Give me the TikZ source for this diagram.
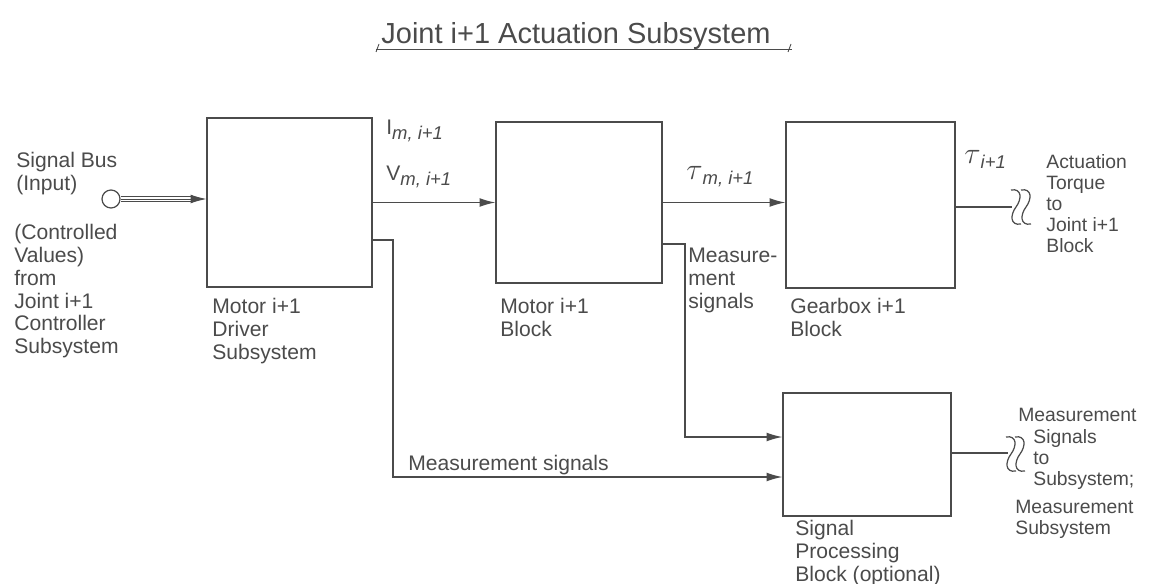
\documentclass[tikz,border=0pt]{standalone}
\usepackage{fontspec}
\setmainfont{Liberation Sans}
\usetikzlibrary{arrows.meta}
\definecolor{pencil}{RGB}{75,75,75}
% subscript set in text size, slightly lowered
\newcommand{\lowsub}[1]{\raisebox{-0.45ex}{\fontsize{10.5}{12}\selectfont\itshape #1}}
\newcommand{\bigtau}{{\fontsize{17}{17}\selectfont$\tau$}}
\begin{document}
\begin{tikzpicture}[x=0.02cm,y=-0.02cm,
  pen/.style={draw=pencil, line width=0.7pt},
  blockbox/.style={pen, rectangle, inner sep=0pt},
  lbl/.style={text=pencil, font=\fontsize{12}{13}\selectfont, align=left, anchor=north west, inner sep=0pt},
  small/.style={lbl, font=\fontsize{11}{12}\selectfont},
  arr/.style={pen, -{Latex[length=9pt,width=5pt]}},
  brk/.pic={\draw[pen] (-5,-17) .. controls (6,-19) and (6,-8) .. (0,0) .. controls (-6,8) and (-6,19) .. (5,17);}
]
\useasboundingbox (0,0) rectangle (1150,584);

% title
\node[text=pencil, font=\fontsize{16.5}{18}\selectfont] (title) at (576,36) {Joint i+1 Actuation Subsystem};
\draw[pen, line width=0.5pt] (376,49) -- (792,49);
\draw[pen, line width=0.5pt] (379,44) -- (376,52);
\draw[pen, line width=0.5pt] (791,44) -- (788,52);

% blocks
\node[blockbox, minimum width=3.3cm,  minimum height=3.38cm] (drv) at (289.5,202.5) {};
\node[blockbox, minimum width=3.32cm, minimum height=3.22cm] (mot) at (579,202.5) {};
\node[blockbox, minimum width=3.38cm, minimum height=3.32cm] (gb)  at (870.5,205) {};
\node[blockbox, minimum width=3.36cm, minimum height=2.46cm] (sp)  at (867,454.5) {};

% signal bus input
\node[pen, circle, minimum size=0.36cm, inner sep=0pt] (bus) at (111,199) {};
\draw[pen, double=white, double distance=2.6pt, line width=0.5pt, shorten >=9pt] (bus.east) -- (drv.west |- bus.east);
\draw[arr, line width=0.5pt] (bus.east) -- (drv.west |- bus.east);

% main signal path
\draw[arr] (drv.east) -- (mot.west);
\draw[arr] (mot.east) -- (gb.west |- mot.east);
\coordinate (gbout) at (1012,207);
\draw[pen] (gb.east |- gbout) -- (gbout);
\pic at (1016,207) {brk};
\pic at (1026,207) {brk};

% measurement paths
\coordinate (m1a) at (393,240);
\coordinate (m1b) at (393,477);
\draw[arr] (drv.east |- m1a) -- (m1a) -- (m1b) -- (sp.west |- m1b);
\coordinate (m2a) at (685,244);
\coordinate (m2b) at (685,437);
\draw[arr] (mot.east |- m2a) -- (m2a) -- (m2b) -- (sp.west |- m2b);
\coordinate (spout) at (1008,453);
\draw[pen] (sp.east |- spout) -- (spout);
\pic at (1011,454) {brk};
\pic at (1020,454) {brk};

% labels
\node[lbl] (buslbl) at (16,152) {Signal Bus\\(Input)};
\node[lbl] (srclbl) at (14,224) {(Controlled\\Values)\\from\\Joint i+1\\Controller\\Subsystem};
\node[lbl] (ilbl) at (386,120) {I\lowsub{m, i+1}};
\node[lbl] (vlbl) at (386,166) {V\lowsub{m, i+1}};
\node[lbl] (drvlbl) at (212,298) {Motor i+1\\Driver\\Subsystem};
\node[lbl] (taum) at (686,166) {\bigtau\lowsub{m, i+1}};
\node[lbl] (measlbl) at (688,248) {Measure-\\ment\\signals};
\node[lbl] (motlbl) at (500,298) {Motor i+1\\Block};
\node[lbl] (gblbl) at (790,298) {Gearbox i+1\\Block};
\node[lbl] (tau) at (964,150) {\bigtau\lowsub{i+1}};
\node[small] (actlbl) at (1046,154) {Actuation\\Torque\\to\\Joint i+1\\Block};
\node[lbl] (measlbl2) at (408,455) {Measurement signals};
\node[lbl] (splbl) at (795,520) {Signal\\Processing\\Block (optional)};
\node[small] (outlbl) at (1018,408) {Measurement};
\node[small] (outlbl1) at (1033,429) {Signals\\to\\Subsystem;};
\node[small] (outlbl2) at (1015,500) {Measurement\\Subsystem};
\end{tikzpicture}
\end{document}
